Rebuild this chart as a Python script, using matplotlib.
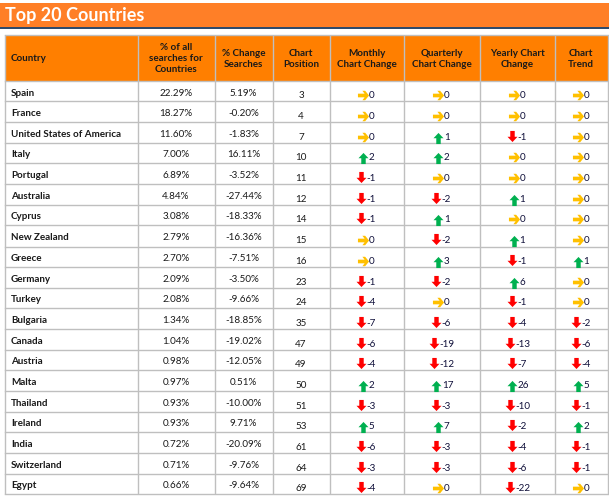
#!/usr/bin/env python3
# -*- coding: utf-8 -*-
import matplotlib
matplotlib.use('Agg')
from matplotlib import pyplot as plt
from matplotlib.path import Path

plt.rcParams['font.family'] = ['Lato', 'DejaVu Sans']

title = 'Top 20 Countries'
headers = ['Country', '% of all\nsearches for\nCountries', '% Change\nSearches', 'Chart\nPosition',
           'Monthly\nChart Change', 'Quarterly\nChart Change', 'Yearly Chart\nChange', 'Chart\nTrend']

countries = ['Spain', 'France', 'United States of America', 'Italy', 'Portugal', 'Australia', 'Cyprus',
             'New Zealand', 'Greece', 'Germany', 'Turkey', 'Bulgaria', 'Canada', 'Austria', 'Malta',
             'Thailand', 'Ireland', 'India', 'Switzerland', 'Egypt']
share = [22.29, 18.27, 11.60, 7.00, 6.89, 4.84, 3.08, 2.79, 2.70, 2.09,
         2.08, 1.34, 1.04, 0.98, 0.97, 0.93, 0.93, 0.72, 0.71, 0.66]
change = [5.19, -0.20, -1.83, 16.11, -3.52, -27.44, -18.33, -16.36, -7.51, -3.50,
          -9.66, -18.85, -19.02, -12.05, 0.51, -10.00, 9.71, -20.09, -9.76, -9.64]
position = [3, 4, 7, 10, 11, 12, 14, 15, 16, 23, 24, 35, 47, 49, 50, 51, 53, 61, 64, 69]
monthly = [0, 0, 0, 2, -1, -1, -1, 0, 0, -1, -4, -7, -6, -4, 2, -3, 5, -6, -3, -4]
quarterly = [0, 0, 1, 2, 0, -2, 1, -2, 3, -2, 0, -6, -19, -12, 17, -3, 7, -3, -3, 0]
yearly = [0, 0, -1, 0, 0, 1, 0, 1, -1, 6, -1, -4, -13, -7, 26, -10, -2, -4, -6, -22]
trend = [0, 0, 0, 0, 0, 0, 0, 0, 1, 0, 0, -2, -6, -4, 5, -1, 2, -1, -1, 0]

# grid lines, in pixels
col_x = [4.5, 137.5, 214.5, 272.5, 329.5, 403.5, 479.5, 554.5, 608]
row_y = [82, 102, 123, 144, 164, 185, 206, 226, 248, 268, 289, 309, 330, 351, 371, 392, 413, 433, 454, 475, 495]
head_top = 35.5

fig = plt.figure(figsize=(6.09, 5.02), dpi=100)
ax = fig.add_axes([0, 0, 1, 1])
ax.set_xlim(0, 609)
ax.set_ylim(502, 0)
ax.axis('off')

# banner
ax.fill_between([0, 609], 4, 28, color='#FF7F27', lw=0)
ax.fill_between([0, 609], 28, 30, color='#2F4A6B', lw=0)
ax.text(5, 16, title, color='white', fontsize=13, fontweight='bold', va='center', ha='left')

# header block
ax.fill_between([col_x[0], col_x[-1]], head_top, row_y[0], color='#FF7F00', lw=0)

grid = '#BFBFBF'
for x in col_x:
    ax.plot([x, x], [head_top, row_y[-1]], color=grid, lw=1, solid_capstyle='butt')
ax.plot([col_x[0], col_x[-1]], [head_top, head_top], color=grid, lw=1)
for y in row_y:
    ax.plot([col_x[0], col_x[-1]], [y, y], color=grid, lw=1)

fs = 7.1
head_mid = (head_top + row_y[0]) / 2
ax.text(11, head_mid, headers[0], fontsize=fs, fontweight='bold', va='center', ha='left', color='#1A1A1A')
for i, h in enumerate(headers[1:], start=1):
    xc = (col_x[i] + col_x[i + 1]) / 2
    ax.text(xc, head_mid, h, fontsize=fs, fontweight='bold', va='center', ha='center',
            color='#1A1A1A', linespacing=1.25)

# arrow shapes, markers are drawn y up whatever the axis does
up = Path([(0, 1), (0.9, 0.05), (0.4, 0.05), (0.4, -1), (-0.4, -1), (-0.4, 0.05), (-0.9, 0.05), (0, 1)], closed=True)
down = Path([(0, -1), (0.9, -0.05), (0.4, -0.05), (0.4, 1), (-0.4, 1), (-0.4, -0.05), (-0.9, -0.05), (0, -1)], closed=True)
right = Path([(1, 0), (0.3, 0.85), (-0.2, 0.85), (0.2, 0.33), (-1, 0.33), (-1, -0.33), (0.2, -0.33),
              (-0.2, -0.85), (0.3, -0.85), (1, 0)], closed=True)


def arrow_cell(xc, ymid, v):
    label = str(v)
    w = len(label) * 4.3
    ax_x = xc - (10 + w) / 2 + 4
    if v > 0:
        ax.plot(ax_x, ymid + 1, marker=up, ms=8, color='#00B050', mew=0)
    elif v < 0:
        ax.plot(ax_x, ymid - 1, marker=down, ms=8, color='#FF0000', mew=0)
    else:
        ax.plot(ax_x, ymid, marker=right, ms=8, color='#FFC000', mew=0)
    ax.text(ax_x + 5.5, ymid, label, fontsize=fs, va='center', ha='left', color='#10103A')


for r in range(20):
    mid = (row_y[r] + row_y[r + 1]) / 2 + 1
    ax.text(11, mid, countries[r], fontsize=fs, fontweight='bold', va='center', ha='left', color='#1A1A1A')
    ax.text((col_x[1] + col_x[2]) / 2, mid, '%.2f%%' % share[r], fontsize=fs, va='center', ha='center', color='#1A1A1A')
    ax.text((col_x[2] + col_x[3]) / 2, mid, '%.2f%%' % change[r], fontsize=fs, va='center', ha='center', color='#1A1A1A')
    low = mid + 3
    ax.text((col_x[3] + col_x[4]) / 2, low, str(position[r]), fontsize=fs, va='center', ha='center', color='#1A1A1A')
    for c, vals in zip(range(4, 8), [monthly, quarterly, yearly, trend]):
        arrow_cell((col_x[c] + col_x[c + 1]) / 2, low, vals[r])

fig.savefig('out.png', dpi=100)
